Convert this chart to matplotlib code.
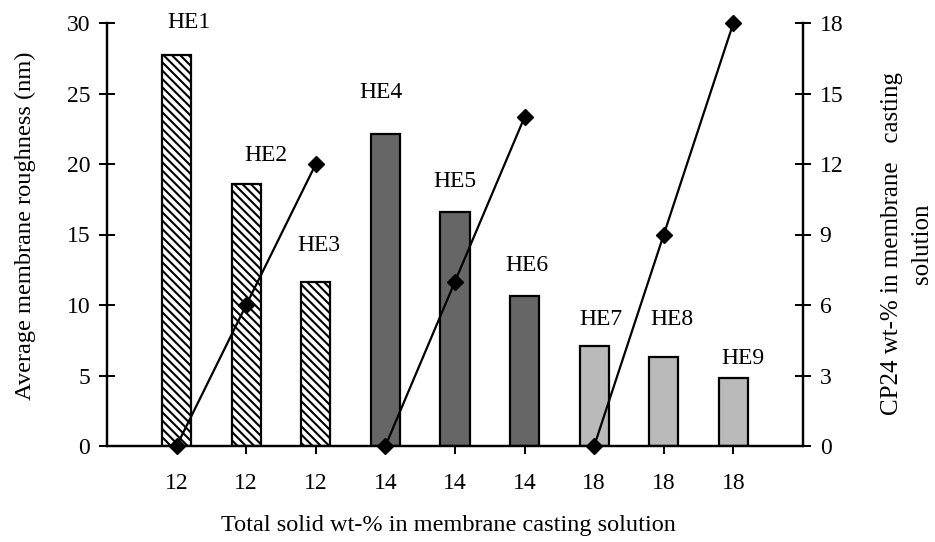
import matplotlib
matplotlib.use("Agg")
import matplotlib.pyplot as plt
import numpy as np

plt.rcParams['font.family'] = ['Liberation Serif', 'DejaVu Serif']
plt.rcParams['hatch.linewidth'] = 1.5

categories = ["12", "12", "12", "14", "14", "14", "18", "18", "18"]
labels = ["HE1", "HE2", "HE3", "HE4", "HE5", "HE6", "HE7", "HE8", "HE9"]
roughness = [27.7, 18.6, 11.65, 22.1, 16.6, 10.65, 7.1, 6.3, 4.85]
cp24_groups = [[0, 6, 12], [0, 7, 14], [0, 9, 18]]

# styling
group_colors = ["white", "#666666", "#bababa"]
group_hatch = ["\\\\\\\\", None, None]
label_dy = [24, 20, 26, 30, 22, 22, 19, 27, 14]  # points above bar
label_dx = [9, 14, 2, -3, 0, 2, 5, 6, 7]

fig = plt.figure(figsize=(9.35, 5.42), dpi=100)
ax = fig.add_axes([107/935, 1-446/542, (803-107)/935, (446-23)/542])
ax2 = ax.twinx()

x = np.arange(len(categories))
for i, v in enumerate(roughness):
    g = i // 3
    ax.bar(x[i], v, width=0.42, color=group_colors[g], edgecolor="black",
           linewidth=1.6, hatch=group_hatch[g], zorder=2)
    ax.annotate(labels[i], (x[i], v), xytext=(label_dx[i], label_dy[i]),
                textcoords="offset points", ha="center", va="center", fontsize=17)

for g, vals in enumerate(cp24_groups):
    xs = x[g*3:g*3+3]
    ax2.plot(xs, vals, color="black", linewidth=1.6, marker="D", markersize=8,
             clip_on=False, zorder=5)

ax.set_xlim(-1, 9)
ax.set_ylim(0, 30)
ax2.set_ylim(0, 18)
ax.set_yticks(np.arange(0, 31, 5))
ax2.set_yticks(np.arange(0, 19, 3))
ax.set_xticks(x)
ax.set_xticklabels(categories)

for a in (ax, ax2):
    for s in a.spines.values():
        s.set_linewidth(1.6)
    a.spines["top"].set_visible(False)

ax.tick_params(axis="x", direction="inout", length=11, width=1.4, pad=14, labelsize=17)
ax.tick_params(axis="y", direction="inout", length=12, width=1.4, pad=6, labelsize=17)
ax2.tick_params(axis="y", direction="inout", length=12, width=1.4, pad=6, labelsize=17)

ax.set_xlabel("Total solid wt-% in membrane casting solution", fontsize=17.5)
ax.xaxis.set_label_coords(0.49, -0.164)
ax.set_ylabel("Average membrane roughness (nm)", fontsize=17.6)
ax.yaxis.set_label_coords(-0.102, 0.52)
ax2.set_ylabel("CP24 wt-% in membrane   casting\nsolution", fontsize=18,
               multialignment="center", linespacing=1.45)
ax2.yaxis.set_label_coords(1.112, 0.478)

fig.savefig("out.png", dpi=100)
